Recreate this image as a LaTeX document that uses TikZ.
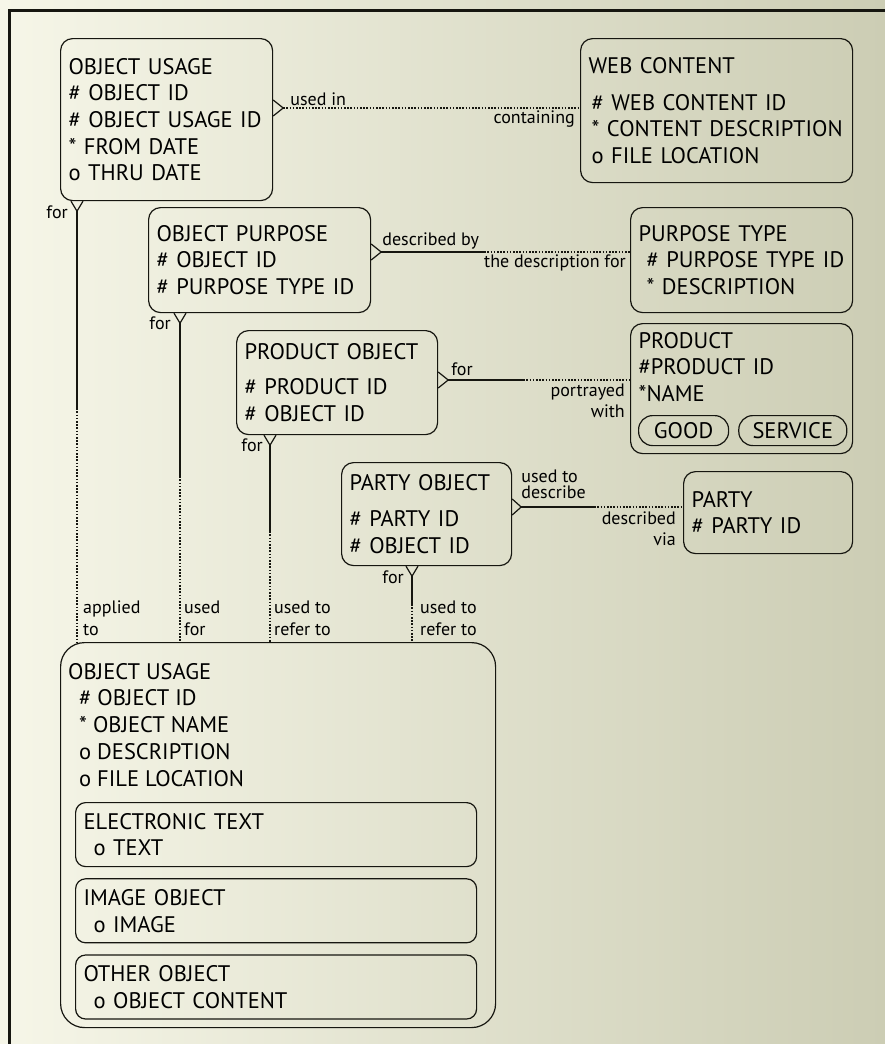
\documentclass[tikz,border=0pt]{standalone}
\usepackage{fontspec}
\setmainfont{PT Sans}
\usepackage{tikz}
\usetikzlibrary{positioning, calc}
\definecolor{paperlight}{RGB}{246,246,232}
\definecolor{paperdark}{RGB}{204,205,180}
\definecolor{inkline}{RGB}{22,22,16}

\begin{document}
\begin{tikzpicture}[x=1pt, y=-1pt,
    entity/.style 2 args={draw=inkline, line width=1.2pt, rounded corners=12pt,
                  anchor=north west, align=left, inner xsep=8pt, inner ysep=0pt,
                  text width=#1, minimum height=#2, font=\fontsize{22.5}{26.7}\selectfont},
    subtype/.style={entity={385pt}{64pt}, rounded corners=10pt},
    pill/.style={draw=inkline, line width=1.2pt, rounded corners=14pt,
                  minimum height=30pt, inner sep=0pt, font=\fontsize{22.5}{26.7}\selectfont},
    role/.style={inner sep=0pt, align=left, font=\fontsize{18}{21}\selectfont},
    rel/.style={draw=inkline, line width=1.2pt},
    opt/.style={rel, dash pattern=on 1.6pt off 1.6pt}
]
    \shade[left color=paperlight, right color=paperdark] (0,0) rectangle (885,1044);
    \useasboundingbox (0,0) rectangle (885,1044);
    \draw[inkline, line width=3pt] (9,1044) -- (9,10) -- (885,10);

    \node[entity={196pt}{162pt}] (usage) at (60,38)
        {OBJECT USAGE\\\# OBJECT ID\\\# OBJECT USAGE ID\\{*} FROM DATE\\o THRU DATE};
    \node[entity={256pt}{144pt}] (web) at (580,38)
        {WEB CONTENT\\[10pt]\hspace*{3pt}\# WEB CONTENT ID\\\hspace*{3pt}* CONTENT DESCRIPTION\\\hspace*{3pt}o FILE LOCATION};
    \node[entity={206pt}{105pt}] (purpose) at (148,207)
        {OBJECT PURPOSE\\\# OBJECT ID\\\# PURPOSE TYPE ID};
    \node[entity={206pt}{105pt}] (purposetype) at (630,207)
        {PURPOSE TYPE\\\hspace*{8pt}\# PURPOSE TYPE ID\\\hspace*{8pt}* DESCRIPTION};
    \node[entity={185pt}{104pt}] (prodobj) at (236,330)
        {PRODUCT OBJECT\\[9pt]\# PRODUCT ID\\\# OBJECT ID};
    \node[entity={206pt}{130pt}] (product) at (630,323)
        {PRODUCT\\\#PRODUCT ID\\{*}NAME\\[9pt]\strut};
    \node[pill, minimum width=90pt, anchor=north west] (good) at (638,415) {GOOD};
    \node[pill, minimum width=108pt, right=9pt of good] (service) {SERVICE};
    \node[entity={154pt}{103pt}] (partyobj) at (341,462)
        {PARTY OBJECT\\[10pt]\# PARTY ID\\\# OBJECT ID};
    \node[entity={153pt}{82pt}] (party) at (683,471)
        {PARTY\\\# PARTY ID};

    \node[entity={419pt}{385pt}, rounded corners=24pt] (object) at (60,642) {};
    \node[anchor=north west, align=left, inner sep=0pt, font=\fontsize{22.5}{26.7}\selectfont]
        (objectattr) at ($(object.north west)+(8,21)$)
        {OBJECT USAGE\\\hspace*{11pt}\# OBJECT ID\\\hspace*{11pt}* OBJECT NAME\\\hspace*{11pt}o DESCRIPTION\\\hspace*{11pt}o FILE LOCATION};
    \node[subtype] (etext) at (75,802) {ELECTRONIC TEXT\\\hspace*{10pt}o TEXT};
    \node[subtype, below=11pt of etext.south west, anchor=north west] (image) {IMAGE OBJECT\\\hspace*{10pt}o IMAGE};
    \node[subtype, below=11pt of image.south west, anchor=north west] (other) {OTHER OBJECT\\\hspace*{10pt}o OBJECT CONTENT};

    \coordinate (cfuse) at ($(usage.north east)+(10,70)$);
    \draw[rel] (cfuse) -- +(-10,-8) (cfuse) -- +(-10,8);
    \draw[opt] (cfuse) -- (cfuse -| web.west);
    \node[role, anchor=base west] (usedin) at ($(cfuse)+(7,-3)$) {used in};
    \node[role, anchor=base east] (containing) at ($(cfuse -| web.west)+(-5,15)$) {containing};

    \coordinate (cfdesc) at ($(purpose.north east)+(10,45)$);
    \draw[rel] (cfdesc) -- +(-10,-8) (cfdesc) -- +(-10,8);
    \draw[rel] (cfdesc) -- ++(103,0) coordinate (middesc);
    \draw[opt] (middesc) -- (middesc -| purposetype.west);
    \node[role, anchor=base west] (describedby) at ($(cfdesc)+(1,-7)$) {described by};
    \node[role, anchor=base east] (descfor) at ($(cfdesc -| purposetype.west)+(-4,15)$) {the description for};

    \coordinate (cfprod) at ($(prodobj.north east)+(10,50)$);
    \draw[rel] (cfprod) -- +(-10,-8) (cfprod) -- +(-10,8);
    \draw[rel] (cfprod) -- ++(75,0) coordinate (midprod);
    \draw[opt] (midprod) -- (midprod -| product.west);
    \node[role, anchor=base west] (forprod) at ($(cfprod)+(3,-5)$) {for};
    \node[role, anchor=north east, align=right] (portrayed) at ($(cfprod -| product.west)+(-5,4)$) {portrayed\\with};

    \coordinate (cfparty) at ($(partyobj.north east)+(9,45)$);
    \draw[rel] (cfparty) -- +(-9,-8) (cfparty) -- +(-9,8);
    \draw[rel] (cfparty) -- ++(73,0) coordinate (midparty);
    \draw[opt] (midparty) -- (midparty -| party.west);
    \node[role, anchor=north west, font=\fontsize{18}{16}\selectfont] (usedto) at ($(cfparty)+(0,-37)$) {used to\\describe};
    \node[role, anchor=north east, align=right] (described) at ($(cfparty -| party.west)+(-7,5)$) {described\\via};

    \coordinate (cfone) at ($(usage.south west)+(17,10)$);
    \draw[rel] (cfone) -- +(-6,-10) (cfone) -- +(6,-10);
    \draw[rel] (cfone) -- ++(0,197) coordinate (midone);
    \draw[opt] (midone) -- (midone |- object.north);
    \node[role, anchor=base east] (forone) at ($(cfone)+(-9,7)$) {for};
    \node[role, anchor=north west, font=\fontsize{18}{22}\selectfont] (applied) at ($(cfone |- object.north)+(6,-41)$) {applied\\to};

    \coordinate (cftwo) at ($(purpose.south west)+(32,10)$);
    \draw[rel] (cftwo) -- +(-6,-10) (cftwo) -- +(6,-10);
    \draw[rel] (cftwo) -- ++(0,153) coordinate (midtwo);
    \draw[opt] (midtwo) -- (midtwo |- object.north);
    \node[role, anchor=base east] (fortwo) at ($(cftwo)+(-9,6)$) {for};
    \node[role, anchor=north west, font=\fontsize{18}{22}\selectfont] (usedfor) at ($(cftwo |- object.north)+(4,-41)$) {used\\for};

    \coordinate (cfthree) at ($(prodobj.south west)+(34,10)$);
    \draw[rel] (cfthree) -- +(-6,-10) (cfthree) -- +(6,-10);
    \draw[rel] (cfthree) -- ++(0,86) coordinate (midthree);
    \draw[opt] (midthree) -- (midthree |- object.north);
    \node[role, anchor=base east] (forthree) at ($(cfthree)+(-7,6)$) {for};
    \node[role, anchor=north west, font=\fontsize{18}{22}\selectfont] (referthree) at ($(cfthree |- object.north)+(4,-41)$) {used to\\refer to};

    \coordinate (cffour) at ($(partyobj.south west)+(71,10)$);
    \draw[rel] (cffour) -- +(-6,-10) (cffour) -- +(6,-10);
    \draw[rel] (cffour) -- ++(0,28) coordinate (midfour);
    \draw[opt] (midfour) -- (midfour |- object.north);
    \node[role, anchor=base east] (forfour) at ($(cffour)+(-8,7)$) {for};
    \node[role, anchor=north west, font=\fontsize{18}{22}\selectfont] (referfour) at ($(cffour |- object.north)+(8,-41)$) {used to\\refer to};
\end{tikzpicture}
\end{document}
